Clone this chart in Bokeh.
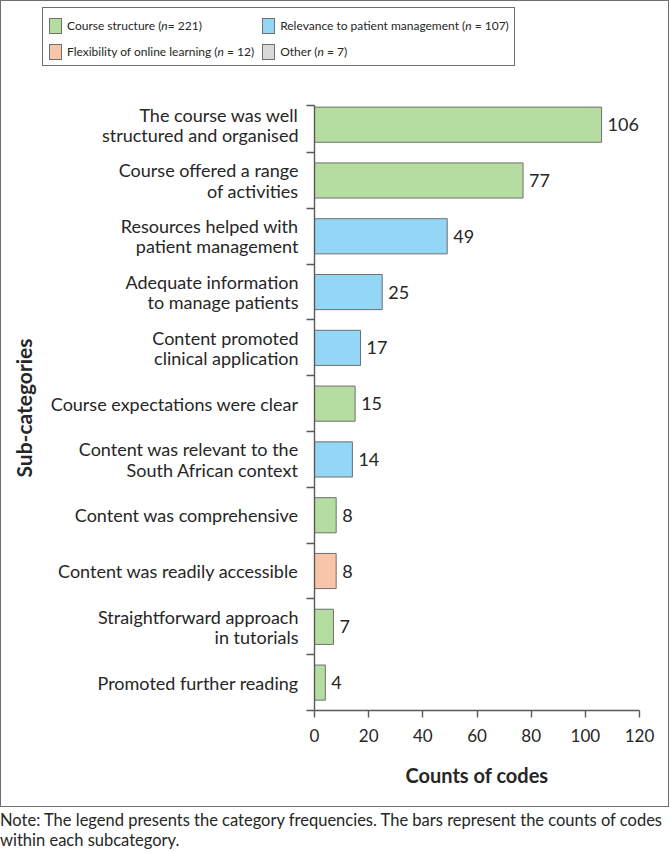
from bokeh.plotting import figure
from bokeh.models import ColumnDataSource, FixedTicker, Div, Range1d
from bokeh.layouts import column
from bokeh.core.properties import value
from bokeh.embed import file_html
from bokeh.resources import INLINE

# ---------------- data ----------------
subcategories = [
    "The course was well\nstructured and organised",
    "Course offered a range\nof activities",
    "Resources helped with\npatient management",
    "Adequate information\nto manage patients",
    "Content promoted\nclinical application",
    "Course expectations were clear",
    "Content was relevant to the\nSouth African context",
    "Content was comprehensive",
    "Content was readily accessible",
    "Straightforward approach\nin tutorials",
    "Promoted further reading",
]
counts = [106, 77, 49, 25, 17, 15, 14, 8, 8, 7, 4]
groups = ["Course structure", "Course structure", "Relevance", "Relevance", "Relevance",
          "Course structure", "Relevance", "Course structure", "Flexibility",
          "Course structure", "Course structure"]
category_names = ["Course structure", "Relevance", "Flexibility", "Other"]
category_labels = ["Course structure (n= 221)", "Relevance to patient management (n = 107)",
                   "Flexibility of online learning (n = 12)", "Other (n = 7)"]
category_colors = ["#b5dca1", "#94d6f6", "#f9c5a9", "#d9d9d9"]
x_ticks = [0, 20, 40, 60, 80, 100, 120]
note_text = ["Note: The legend presents the category frequencies. The bars represent the counts of codes",
             "within each subcategory."]

FONT = "Lato"
TXT = "#262626"
AXC = "#595959"
BAR_LINE = "#707070"

n = len(subcategories)
pos = [n - 1 - i for i in range(n)]          # top item highest
bounds = [b + 0.5 for b in range(-1, n - 1)] + [n - 1 + 0.344]

W = 669
LEG_H = 88

# ---------------- legend strip (HTML) ----------------
def legend_item(label, color):
    lab = label.replace("(n", "(<i>n</i>")
    return (f'<div style="display:flex;align-items:center;height:16px;white-space:nowrap;">'
            f'<span style="display:inline-block;width:13px;height:16px;box-sizing:border-box;'
            f'background:{color};border:1px solid {BAR_LINE};margin-right:5px;"></span>'
            f'<span style="line-height:16px;">{lab}</span></div>')

legend_html = (
    f'<div style="position:relative;width:{W}px;height:{LEG_H}px;">'
    f'<div style="position:absolute;left:42px;top:7px;display:inline-grid;'
    f'grid-template-columns:auto auto;column-gap:8px;row-gap:10px;'
    f'padding:10px 5px 5px 6px;border:1px solid #6f6f6f;background:white;'
    f'font-family:{FONT};font-size:12px;color:{TXT};">'
    + "".join(legend_item(l, c) for l, c in zip(category_labels, category_colors))
    + '</div></div>'
)
legend_div = Div(text=legend_html, width=W, height=LEG_H, margin=(0, 0, 0, 0))

# ---------------- main chart ----------------
p = figure(width=W, height=807 - LEG_H, output_backend="svg", toolbar_location=None,
           x_range=Range1d(0, 120), y_range=Range1d(-0.5, n - 1 + 0.344),
           min_border_left=314, min_border_right=30, min_border_top=105 - LEG_H,
           min_border_bottom=97)
p.outline_line_color = None
p.grid.visible = False
p.background_fill_color = None
p.border_fill_color = None

for cname, ccolor in zip(category_names, category_colors):
    src = ColumnDataSource(dict(
        y=[pos[i] for i in range(n) if groups[i] == cname],
        right=[counts[i] for i in range(n) if groups[i] == cname],
    ))
    p.hbar(y="y", right="right", left=0, height=0.63, source=src,
           fill_color=ccolor, line_color=BAR_LINE, line_width=1)

lab_src = ColumnDataSource(dict(x=counts, y=pos, t=[str(c) for c in counts]))
p.text(x="x", y="y", text="t", source=lab_src, x_offset=6, text_baseline="middle",
       text_align="left", text_font=value(FONT), text_font_size="18px", text_color=TXT)

# x axis
xa = p.xaxis[0]
xa.ticker = FixedTicker(ticks=x_ticks)
xa.axis_label = "Counts of codes"
xa.axis_label_text_font = FONT
xa.axis_label_text_font_style = "bold"
xa.axis_label_text_font_size = "20px"
xa.axis_label_text_color = TXT
xa.axis_label_standoff = 18
xa.major_label_text_font = FONT
xa.major_label_text_font_size = "17px"
xa.major_label_text_color = TXT
xa.major_label_standoff = 11
xa.major_tick_in = 0
xa.major_tick_out = 7
xa.minor_tick_out = 0
xa.minor_tick_in = 0
xa.axis_line_color = AXC
xa.major_tick_line_color = AXC
xa.axis_line_width = 1.4
xa.major_tick_line_width = 1.4

# y axis
ya = p.yaxis[0]
ya.ticker = FixedTicker(ticks=pos, minor_ticks=bounds)
ya.major_label_overrides = {pos[i]: subcategories[i] for i in range(n)}
ya.major_tick_in = 0
ya.major_tick_out = 0
ya.minor_tick_in = 0
ya.minor_tick_out = 8
ya.minor_tick_line_color = AXC
ya.minor_tick_line_width = 1.4
ya.axis_line_color = AXC
ya.axis_line_width = 1.4
ya.major_label_standoff = 8
ya.major_label_text_font = FONT
ya.major_label_text_font_size = "18px"
ya.major_label_text_color = TXT
ya.major_label_text_line_height = 0.92
ya.axis_label = "Sub-categories"
ya.axis_label_text_font = FONT
ya.axis_label_text_font_style = "bold"
ya.axis_label_text_font_size = "21px"
ya.axis_label_text_color = TXT
ya.axis_label_standoff = 12

note = Div(text="<br>".join(note_text),
           width=W, margin=(3, 0, 0, 0),
           styles={"font-family": FONT, "font-size": "16.5px", "color": TXT,
                   "line-height": "20px", "white-space": "nowrap"})

chart = column(legend_div, p, spacing=0, width=W, height=807,
               styles={"outline": "1px solid #6f6f6f", "outline-offset": "-1px"})
layout = column(chart, note, spacing=0)
open("out.html", "w").write(file_html(layout, INLINE))
